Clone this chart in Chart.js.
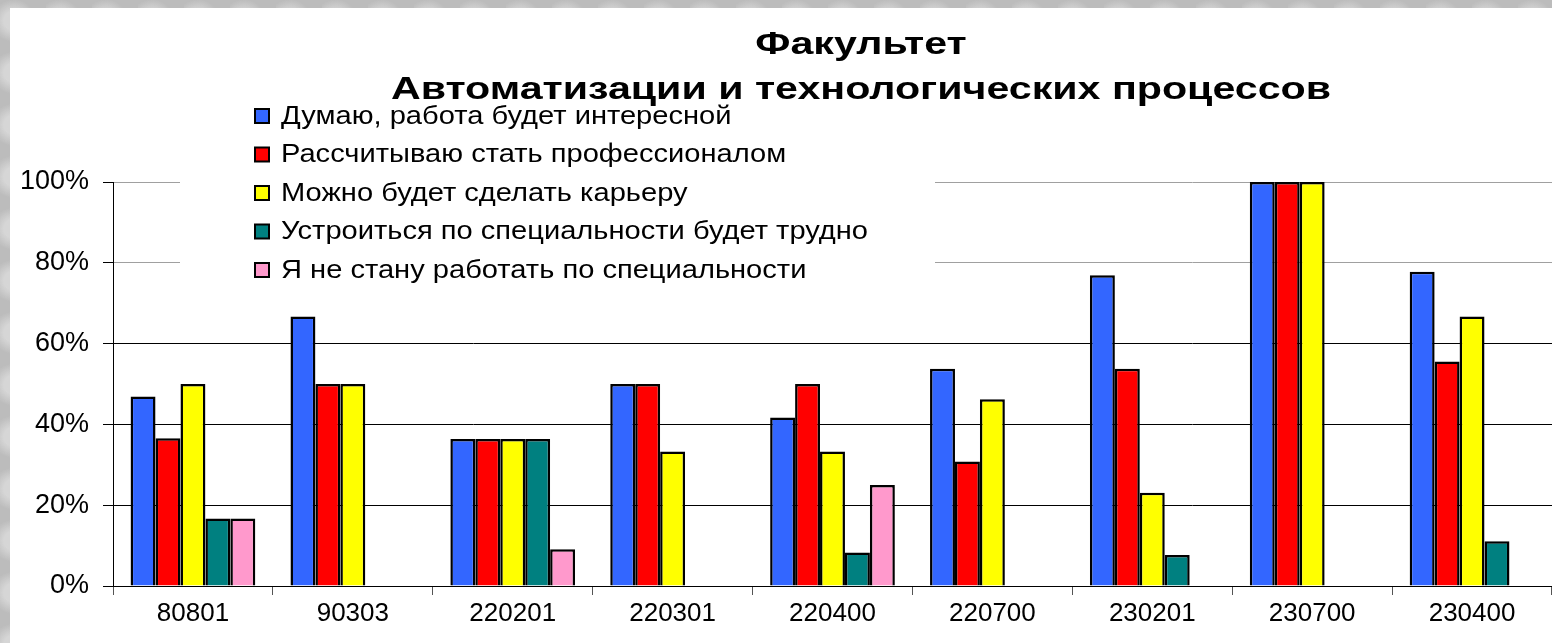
<!DOCTYPE html>
<html>
<head>
<meta charset="utf-8">
<script src="https://cdn.jsdelivr.net/npm/chart.js@4.4.1/dist/chart.umd.min.js"></script>
<style>
  html, body { margin: 0; padding: 0; }
  body {
    width: 1552px; height: 643px; overflow: hidden;
    background-color: #bcbcbc;
    background-image:
      radial-gradient(ellipse at 30% 40%, rgba(235,235,235,0.55) 0 10px, transparent 22px),
      radial-gradient(ellipse at 75% 70%, rgba(150,150,150,0.35) 0 8px, transparent 18px);
    background-size: 46px 52px, 38px 41px;
    position: relative;
  }
  #wrap { position: absolute; left: 10px; top: 8px; width: 1542px; height: 635px; background: #fff; }
  canvas { display: block; }
</style>
</head>
<body>
<div id="wrap"><canvas id="c" width="1542" height="635"></canvas></div>
<script>
const titleLines = ["Факультет", "Автоматизации и технологических процессов"];
const categories = ["80801", "90303", "220201", "220301", "220400", "220700", "230201", "230700", "230400"];
const seriesNames = [
  "Думаю, работа будет интересной",
  "Рассчитываю стать профессионалом",
  "Можно будет сделать карьеру",
  "Устроиться по специальности будет трудно",
  "Я не стану работать по специальности"
];
const seriesColors = ["#3366ff", "#ff0000", "#ffff00", "#008080", "#ff99cc"];
const interesting   = [46.9, 66.7, 36.4, 50.0, 41.7, 53.8, 76.9, 100, 77.8];
const professional  = [36.6, 50.0, 36.4, 50.0, 50.0, 30.8, 53.8, 100, 55.6];
const career        = [50.0, 50.0, 36.4, 33.3, 33.3, 46.2, 23.1, 100, 66.7];
const hardToFind    = [16.7, null, 36.4, null, 8.3, null, 7.7, null, 11.1];
const notInField    = [16.7, null, 9.1, null, 25.0, null, null, null, null];
const yTicks = [0, 20, 40, 60, 80, 100];

const seriesValues = [interesting, professional, career, hardToFind, notInField];

function drawStretched(ctx, text, x, y, sx, align) {
  const w = ctx.measureText(text).width * sx;
  let left = x;
  if (align === 'center') left = x - w / 2;
  ctx.save();
  ctx.translate(left, y);
  ctx.scale(sx, 1);
  ctx.textAlign = 'left';
  ctx.fillText(text, 0, 0);
  ctx.restore();
}

const textPlugin = {
  id: 'textPlugin',
  beforeDatasetsDraw(chart) {
    const ctx = chart.ctx;
    ctx.save();
    ctx.fillStyle = '#fff';
    ctx.fillRect(170, 95, 755, 190);
    ctx.font = '25px "Liberation Sans", Arial, sans-serif';
    ctx.textBaseline = 'middle';
    const sx = 587 / ctx.measureText(seriesNames[3]).width;
    chart.data.datasets.forEach((ds, i) => {
      const cy = 108 + i * 38.5;
      ctx.fillStyle = ds.backgroundColor;
      ctx.fillRect(245, cy - 7, 14, 14);
      ctx.lineWidth = 2;
      ctx.strokeStyle = '#000';
      ctx.strokeRect(245, cy - 7, 14, 14);
      ctx.fillStyle = '#000';
      drawStretched(ctx, ds.label, 271, cy + 1, sx, 'left');
    });
    ctx.restore();
  },
  afterDraw(chart) {
    const ctx = chart.ctx;
    ctx.save();
    ctx.fillStyle = '#000';
    ctx.font = 'bold 31px "Liberation Sans", Arial, sans-serif';
    ctx.textBaseline = 'alphabetic';
    const sx = 940 / ctx.measureText(titleLines[1]).width;
    drawStretched(ctx, titleLines[0], 851, 46, sx, 'center');
    drawStretched(ctx, titleLines[1], 851, 91, sx, 'center');
    ctx.restore();
  }
};

new Chart(document.getElementById('c'), {
  type: 'bar',
  data: {
    labels: categories,
    datasets: seriesValues.map((vals, i) => ({
      label: seriesNames[i],
      data: vals,
      backgroundColor: seriesColors[i],
      borderColor: '#000',
      borderWidth: 2.5,
      categoryPercentage: 0.78,
      barPercentage: 1.0
    }))
  },
  options: {
    responsive: false,
    animation: false,
    devicePixelRatio: 1,
    layout: { padding: { top: 174, left: 0, right: 0, bottom: 0 } },
    plugins: {
      legend: { display: false },
      title: { display: false },
      tooltip: { enabled: false }
    },
    scales: {
      x: {
        afterFit: (s) => { s.height = 57; },
        grid: { display: true, drawOnChartArea: false, drawTicks: true, tickLength: 9, tickColor: '#555', offset: true },
        border: { color: '#000', width: 1 },
        ticks: { color: '#000', padding: 3, font: { family: '"Liberation Sans", Arial, sans-serif', size: 26 } }
      },
      y: {
        min: 0, max: 100,
        afterFit: (s) => { s.width = 103; },
        afterBuildTicks: (s) => { s.ticks = yTicks.map(v => ({ value: v })); },
        grid: {
          color: (c) => (c.tick && c.tick.value >= 80 ? '#a0a0a0' : '#000'),
          tickColor: '#000',
          tickLength: 10,
          lineWidth: 1
        },
        border: { color: '#000', width: 1 },
        ticks: {
          color: '#000', padding: 14,
          font: { family: '"Liberation Sans", Arial, sans-serif', size: 27 },
          callback: (v) => v + '%'
        }
      }
    }
  },
  plugins: [textPlugin]
});
</script>
</body>
</html>
